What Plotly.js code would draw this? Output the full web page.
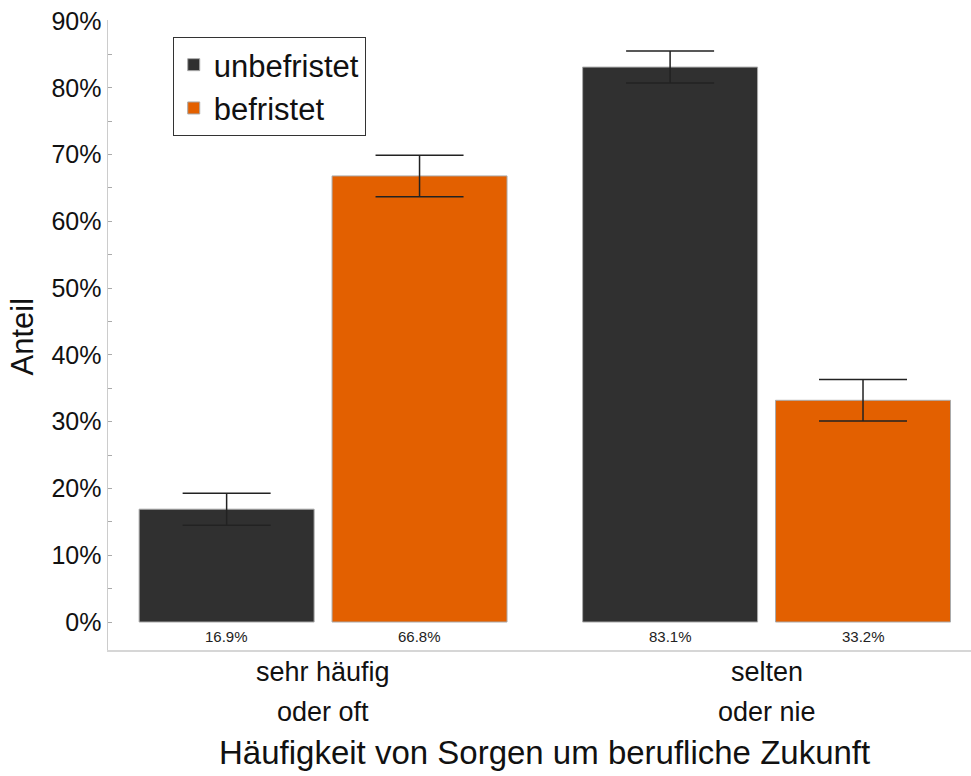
<!DOCTYPE html>
<html>
<head>
<meta charset="utf-8">
<script src="https://cdn.plot.ly/plotly-3.0.1.min.js"></script>
<style>html,body{margin:0;padding:0;background:#fff;}#chart{width:971px;height:776px;}</style>
</head>
<body>
<div id="chart"></div>
<script>
// ---- data ----
const categories = ["sehr häufig oder oft", "selten oder nie"];
const categoryLines = [["sehr häufig", "oder oft"], ["selten", "oder nie"]];
const seriesNames = ["unbefristet", "befristet"];
const unbefristet = [16.9, 83.1];
const befristet = [66.8, 33.2];
const unbefristetErr = [2.4, 2.4];
const befristetErr = [3.1, 3.1];
const yTicks = [0, 10, 20, 30, 40, 50, 60, 70, 80, 90];
const xTitle = "Häufigkeit von Sorgen um berufliche Zukunft";
const yTitle = "Anteil";

// ---- styling ----
const FONT = "Liberation Sans, Arial, sans-serif";
const colors = ["#303030", "#E36000"];
const BARGAP = 0.13;
const BARGROUPGAP = 0.093;
const pitch = (1 - BARGAP) / 2;

const seriesVals = [unbefristet, befristet];
const seriesErr = [unbefristetErr, befristetErr];

const traces = seriesVals.map((vals, s) => ({
  type: "bar",
  name: seriesNames[s],
  x: categories,
  y: vals,
  marker: { color: colors[s], line: { color: "#aaaaaa", width: 1 } },
  error_y: { type: "data", array: seriesErr[s], visible: true, color: "#222", thickness: 1.5, width: 44 },
  hoverinfo: "skip"
}));

const annotations = [];
// value labels under bars
seriesVals.forEach((vals, s) => {
  vals.forEach((v, i) => {
    annotations.push({
      xref: "x", yref: "y",
      x: i + (s - 0.5) * pitch, y: 0,
      yanchor: "top", xanchor: "center", yshift: -4,
      text: v.toFixed(1) + "%", showarrow: false,
      font: { family: FONT, size: 15, color: "#222" }
    });
  });
});
// category labels (two lines each)
categoryLines.forEach((lines, i) => {
  lines.forEach((t, j) => {
    annotations.push({
      xref: "x", yref: "paper",
      x: i, y: j === 0 ? -0.035 : -0.0985,
      yanchor: "middle", xanchor: "center",
      text: t, showarrow: false,
      font: { family: FONT, size: 27, color: "#111" }
    });
  });
});
// axis titles
annotations.push({
  xref: "paper", yref: "paper", x: 0.506, y: -0.162,
  xanchor: "center", yanchor: "middle", text: xTitle, showarrow: false,
  font: { family: FONT, size: 33, color: "#111" }
});
annotations.push({
  xref: "paper", yref: "paper", x: -0.099, y: 0.497,
  xanchor: "center", yanchor: "middle", textangle: -90, text: yTitle, showarrow: false,
  font: { family: FONT, size: 31, color: "#111" }
});

const layout = {
  width: 971, height: 776,
  margin: { l: 108, r: 0, t: 20, b: 126 },
  paper_bgcolor: "#fff", plot_bgcolor: "#fff",
  barmode: "group", bargap: BARGAP, bargroupgap: BARGROUPGAP,
  showlegend: true,
  legend: {
    x: 0.075, y: 0.973, xanchor: "left", yanchor: "top",
    bgcolor: "#fff", bordercolor: "#333", borderwidth: 1,
    font: { family: FONT, size: 31, color: "#111" },
    tracegroupgap: 0
  },
  xaxis: {
    range: [-0.485, 1.461],
    showticklabels: false, ticks: "",
    showgrid: false, zeroline: false,
    showline: true, linecolor: "#d6d6d6", linewidth: 2
  },
  yaxis: {
    range: [-4.19, 90.15],
    tickvals: yTicks, ticktext: yTicks.map(v => v + "%"),
    ticks: "inside", ticklen: 4, tickcolor: "#aaa", tickwidth: 1,
    minor: { dtick: 5, ticks: "inside", ticklen: 4, tickcolor: "#aaa", tickwidth: 1, showgrid: false },
    tickfont: { family: FONT, size: 25, color: "#111" },
    showgrid: false, zeroline: false,
    showline: true, linecolor: "#cccccc", linewidth: 1.5
  },
  annotations: annotations
};

Plotly.newPlot("chart", traces, layout, { displayModeBar: false, staticPlot: true });
</script>
</body>
</html>
